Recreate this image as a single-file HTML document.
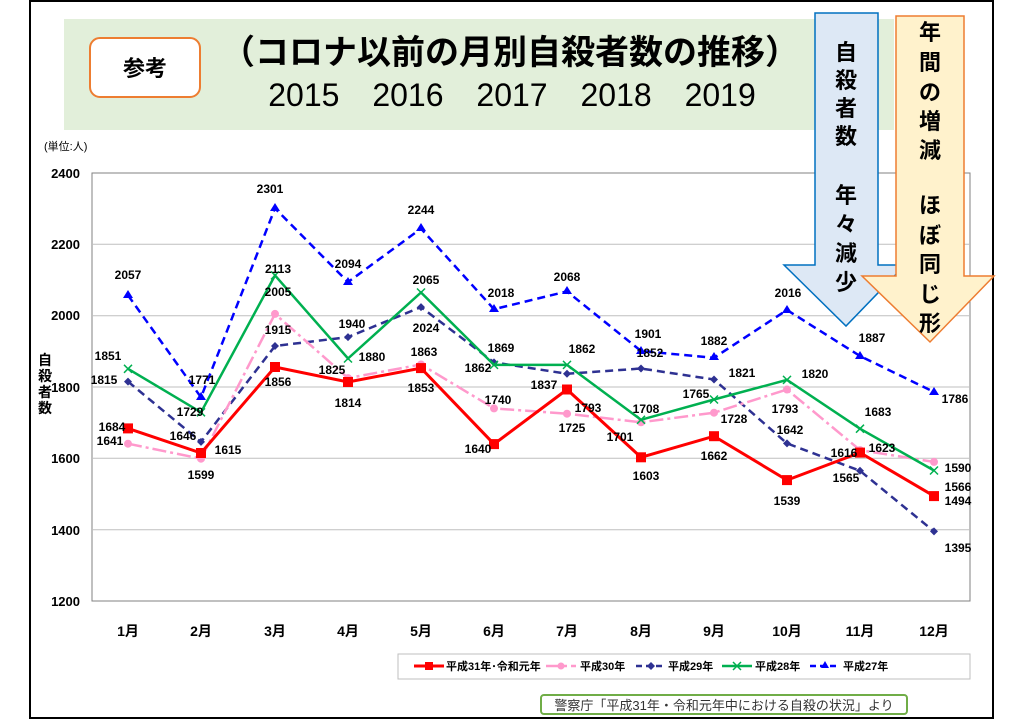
<!DOCTYPE html>
<html><head><meta charset="utf-8"><style>
body{margin:0;background:#fff;}
svg{display:block;font-family:"Liberation Sans","Noto Sans CJK JP",sans-serif;}
</style></head><body>
<svg width="1024" height="721" viewBox="0 0 1024 721" xmlns="http://www.w3.org/2000/svg">
<rect x="30" y="1" width="963" height="717" fill="#fff" stroke="#000" stroke-width="2"/>
<rect x="64" y="19" width="830" height="111" fill="#e2efda"/>
<rect x="90" y="38" width="110" height="59" rx="10" fill="#fff" stroke="#ed7d31" stroke-width="2"/>
<text x="145" y="76" font-size="22" font-weight="bold" text-anchor="middle">参考</text>
<text x="510" y="64" font-size="34" font-weight="bold" text-anchor="middle">（コロナ以前の月別自殺者数の推移）</text>
<text x="512" y="106" font-size="32" text-anchor="middle" word-spacing="24">2015  2016  2017  2018  2019</text>
<text x="44" y="150" font-size="11">(単位:人)</text>
<rect x="92" y="173" width="878" height="428" fill="#fff" stroke="#808080"/>
<g stroke="#bfbfbf" stroke-width="1">
<line x1="92" y1="244.3" x2="970" y2="244.3"/><line x1="92" y1="315.7" x2="970" y2="315.7"/>
<line x1="92" y1="387" x2="970" y2="387"/><line x1="92" y1="458.3" x2="970" y2="458.3"/>
<line x1="92" y1="529.7" x2="970" y2="529.7"/>
</g>
<g font-size="13" font-weight="bold" text-anchor="end" fill="#000">
<text x="80" y="178">2400</text><text x="80" y="249">2200</text><text x="80" y="320">2000</text>
<text x="80" y="392">1800</text><text x="80" y="463">1600</text><text x="80" y="535">1400</text><text x="80" y="606">1200</text>
</g>
<g font-size="14" font-weight="bold" text-anchor="middle">
<text x="45" y="365">自</text><text x="45" y="381">殺</text><text x="45" y="397">者</text><text x="45" y="413">数</text>
</g>
<g font-size="14" font-weight="bold" text-anchor="middle">
<text x="128" y="636">1月</text><text x="201" y="636">2月</text><text x="275" y="636">3月</text><text x="348" y="636">4月</text>
<text x="421" y="636">5月</text><text x="494" y="636">6月</text><text x="567" y="636">7月</text><text x="641" y="636">8月</text>
<text x="714" y="636">9月</text><text x="787" y="636">10月</text><text x="860" y="636">11月</text><text x="934" y="636">12月</text>
</g>
<!-- H27 -->
<polyline fill="none" stroke="#0000ff" stroke-width="2.5" stroke-dasharray="8,5" points="128,295.3 201,397.3 275,208.3 348,282.1 421,228.6 494,309.2 567,291.4 641,351 714,357.8 787,310 860,356 934,392"/>
<g fill="#0000ff"><path d="M128,290 l5,8 h-10z"/><path d="M201,392 l5,8 h-10z"/><path d="M275,203 l5,8 h-10z"/><path d="M348,277 l5,8 h-10z"/><path d="M421,223 l5,8 h-10z"/><path d="M494,304 l5,8 h-10z"/><path d="M567,286 l5,8 h-10z"/><path d="M641,346 l5,8 h-10z"/><path d="M714,352 l5,8 h-10z"/><path d="M787,305 l5,8 h-10z"/><path d="M860,351 l5,8 h-10z"/><path d="M934,387 l5,8 h-10z"/></g>
<!-- H29 -->
<polyline fill="none" stroke="#2e3192" stroke-width="2.5" stroke-dasharray="8,5" points="128,381.6 201,441.9 275,346 348,337.1 421,307.1 494,362.4 567,373.8 641,368.5 714,379.5 787,443.4 860,470.8 934,531.4"/>
<g fill="#2e3192"><path d="M128,377.6 l4,4 l-4,4 l-4,-4z"/><path d="M201,437.9 l4,4 l-4,4 l-4,-4z"/><path d="M275,342 l4,4 l-4,4 l-4,-4z"/><path d="M348,333.1 l4,4 l-4,4 l-4,-4z"/><path d="M421,303.1 l4,4 l-4,4 l-4,-4z"/><path d="M494,358.4 l4,4 l-4,4 l-4,-4z"/><path d="M567,369.8 l4,4 l-4,4 l-4,-4z"/><path d="M641,364.5 l4,4 l-4,4 l-4,-4z"/><path d="M714,375.5 l4,4 l-4,4 l-4,-4z"/><path d="M787,439.4 l4,4 l-4,4 l-4,-4z"/><path d="M860,466.8 l4,4 l-4,4 l-4,-4z"/><path d="M934,527.4 l4,4 l-4,4 l-4,-4z"/></g>
<!-- H30 -->
<polyline fill="none" stroke="#ff99cc" stroke-width="2.5" stroke-dasharray="14,4,3,4" points="128,443.7 201,458.7 275,313.9 348,378.1 421,364.5 494,408.4 567,413.7 641,422.3 714,412.7 787,389.5 860,450.1 934,461.9"/>
<g fill="#ff99cc"><circle cx="128" cy="443.7" r="4"/><circle cx="201" cy="458.7" r="4"/><circle cx="275" cy="313.9" r="4"/><circle cx="348" cy="378.1" r="4"/><circle cx="421" cy="364.5" r="4"/><circle cx="494" cy="408.4" r="4"/><circle cx="567" cy="413.7" r="4"/><circle cx="641" cy="422.3" r="4"/><circle cx="714" cy="412.7" r="4"/><circle cx="787" cy="389.5" r="4"/><circle cx="860" cy="450.1" r="4"/><circle cx="934" cy="461.9" r="4"/></g>
<!-- H28 -->
<polyline fill="none" stroke="#00b050" stroke-width="2.5" points="128,368.8 201,412.3 275,275.4 348,358.5 421,292.5 494,364.9 567,364.9 641,419.8 714,399.5 787,379.9 860,428.7 934,470.5"/>
<g stroke="#00b050" stroke-width="1.5" fill="none"><path d="M124,364.8l8,8m0,-8l-8,8"/><path d="M197,408.3l8,8m0,-8l-8,8"/><path d="M271,271.4l8,8m0,-8l-8,8"/><path d="M344,354.5l8,8m0,-8l-8,8"/><path d="M417,288.5l8,8m0,-8l-8,8"/><path d="M490,360.9l8,8m0,-8l-8,8"/><path d="M563,360.9l8,8m0,-8l-8,8"/><path d="M637,415.8l8,8m0,-8l-8,8"/><path d="M710,395.5l8,8m0,-8l-8,8"/><path d="M783,375.9l8,8m0,-8l-8,8"/><path d="M856,424.7l8,8m0,-8l-8,8"/><path d="M930,466.5l8,8m0,-8l-8,8"/></g>
<!-- H31 -->
<polyline fill="none" stroke="#ff0000" stroke-width="3" points="128,428.4 201,453 275,367 348,382 421,368.1 494,444.1 567,389.5 641,457.3 714,436.2 787,480.1 860,452.6 934,496.1"/>
<g fill="#ff0000"><rect x="123" y="423.4" width="10" height="10"/><rect x="196" y="448" width="10" height="10"/><rect x="270" y="362" width="10" height="10"/><rect x="343" y="377" width="10" height="10"/><rect x="416" y="363.1" width="10" height="10"/><rect x="489" y="439.1" width="10" height="10"/><rect x="562" y="384.5" width="10" height="10"/><rect x="636" y="452.3" width="10" height="10"/><rect x="709" y="431.2" width="10" height="10"/><rect x="782" y="475.1" width="10" height="10"/><rect x="855" y="447.6" width="10" height="10"/><rect x="929" y="491.1" width="10" height="10"/></g>
<g font-size="12" font-weight="bold" fill="#000" text-anchor="middle">
<text x="128" y="279">2057</text><text x="270" y="193">2301</text><text x="348" y="268">2094</text><text x="421" y="214">2244</text><text x="501" y="297">2018</text><text x="567" y="281">2068</text><text x="648" y="338">1901</text><text x="714" y="345">1882</text><text x="788" y="297">2016</text><text x="872" y="342">1887</text><text x="955" y="403">1786</text>
<text x="202" y="384">1771</text><text x="278" y="273">2113</text><text x="278" y="296">2005</text><text x="278" y="334">1915</text><text x="278" y="386">1856</text>
<text x="352" y="328">1940</text><text x="372" y="361">1880</text><text x="332" y="374">1825</text><text x="348" y="407">1814</text>
<text x="426" y="284">2065</text><text x="426" y="332">2024</text><text x="424" y="356">1863</text><text x="421" y="392">1853</text>
<text x="501" y="352">1869</text><text x="478" y="372">1862</text><text x="498" y="404">1740</text><text x="478" y="453">1640</text>
<text x="582" y="353">1862</text><text x="544" y="389">1837</text><text x="588" y="412">1793</text><text x="572" y="432">1725</text>
<text x="650" y="357">1852</text><text x="646" y="413">1708</text><text x="620" y="441">1701</text><text x="646" y="480">1603</text>
<text x="742" y="377">1821</text><text x="696" y="398">1765</text><text x="734" y="423">1728</text><text x="714" y="460">1662</text>
<text x="815" y="378">1820</text><text x="785" y="413">1793</text><text x="790" y="434">1642</text><text x="787" y="505">1539</text>
<text x="878" y="416">1683</text><text x="882" y="452">1623</text><text x="844" y="457">1616</text><text x="846" y="482">1565</text>
<text x="958" y="472">1590</text><text x="958" y="491">1566</text><text x="958" y="505">1494</text><text x="958" y="552">1395</text>
<text x="108" y="360">1851</text><text x="104" y="384">1815</text><text x="112" y="431">1684</text><text x="110" y="445">1641</text>
<text x="190" y="416">1729</text><text x="183" y="440">1646</text><text x="228" y="454">1615</text><text x="201" y="479">1599</text>
</g>
<rect x="398" y="654" width="572" height="25" fill="#fff" stroke="#bfbfbf"/>
<g font-size="11" font-weight="bold">
<line x1="414" y1="666" x2="444" y2="666" stroke="#f00" stroke-width="3"/><rect x="425" y="662" width="8" height="8" fill="#f00"/><text x="446" y="670">平成31年･令和元年</text>
<line x1="546" y1="666" x2="576" y2="666" stroke="#ff99cc" stroke-width="2.5" stroke-dasharray="14,4,3,4"/><circle cx="561" cy="666" r="3.5" fill="#ff99cc"/><text x="580" y="670">平成30年</text>
<line x1="636" y1="666" x2="666" y2="666" stroke="#2e3192" stroke-width="2.5" stroke-dasharray="6,4"/><path d="M651,662 l4,4 l-4,4 l-4,-4z" fill="#2e3192"/><text x="668" y="670">平成29年</text>
<line x1="722" y1="666" x2="752" y2="666" stroke="#00b050" stroke-width="2.5"/><path d="M733,662l8,8m0,-8l-8,8" stroke="#00b050" stroke-width="1.5"/><text x="755" y="670">平成28年</text>
<line x1="810" y1="666" x2="840" y2="666" stroke="#0000ff" stroke-width="2.5" stroke-dasharray="6,4"/><path d="M825,661 l4,7 h-8z" fill="#0000ff"/><text x="843" y="670">平成27年</text>
</g>
<rect x="541" y="695" width="366" height="19" rx="3" fill="#fff" stroke="#70ad47" stroke-width="2"/>
<text x="724" y="710" font-size="13" text-anchor="middle" fill="#333">警察庁「平成31年・令和元年中における自殺の状況」より</text>
<path d="M815,13 H878 V265 H905 L846,326 L784,265 H815 Z" fill="#dde8f5" stroke="#0070c0" stroke-width="1.5"/>
<g font-size="22" font-weight="bold" text-anchor="middle"><text x="846" y="60">自</text><text x="846" y="88">殺</text><text x="846" y="116">者</text><text x="846" y="144">数</text><text x="846" y="203">年</text><text x="846" y="232">々</text><text x="846" y="261">減</text><text x="846" y="290">少</text></g>
<path d="M896,16 H964 V276 H994 L930,342 L862,276 H896 Z" fill="#fff2cc" stroke="#ed7d31" stroke-width="1.5"/>
<g font-size="22" font-weight="bold" text-anchor="middle"><text x="930" y="40">年</text><text x="930" y="70">間</text><text x="930" y="100">の</text><text x="930" y="129">増</text><text x="930" y="158">減</text><text x="930" y="213">ほ</text><text x="930" y="243">ぼ</text><text x="930" y="272">同</text><text x="930" y="302">じ</text><text x="930" y="331">形</text></g>
</svg>
</body></html>
